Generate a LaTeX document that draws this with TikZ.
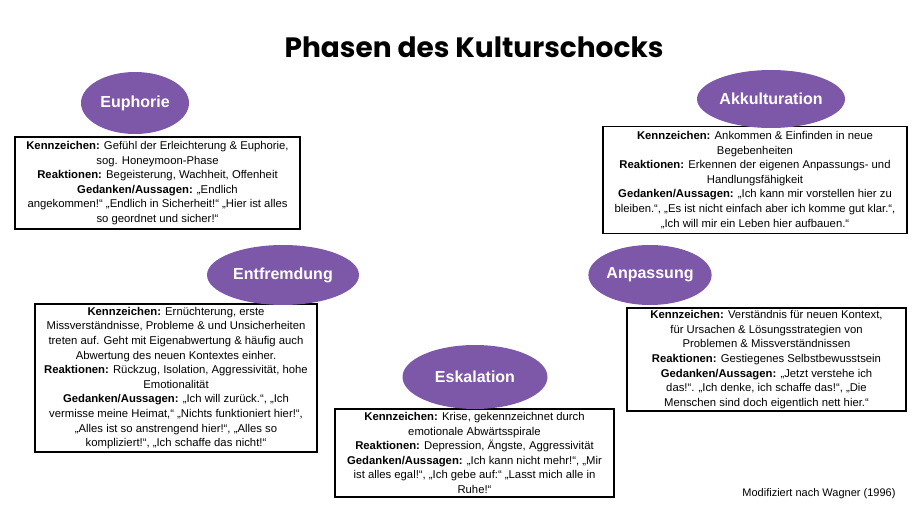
\documentclass[tikz,border=0pt]{standalone}
\usepackage{fontspec}
\setmainfont{Liberation Sans}
\newfontfamily\titlefont{Poppins}
\usetikzlibrary{shapes.geometric}
\definecolor{phase}{HTML}{7E58A8}
\tikzset{
  infobox/.style={draw=black,line width=1.6pt,fill=white,align=center,font=\fontsize{11.3}{14.6}\selectfont,inner sep=2pt},
  phaseell/.style={ellipse,fill=phase,text=white,font=\fontsize{16}{18}\selectfont\bfseries,inner sep=0pt},
}
\begin{document}
\begin{tikzpicture}[x=1pt,y=-1pt]
\useasboundingbox (0,0) rectangle (920,518);
\node (title) at (474,47) {\titlefont\fontsize{28}{30}\selectfont\bfseries Phasen des Kulturschocks};

\node[infobox,minimum width=285pt,minimum height=92pt] (b1) at (157.5,183) {\textbf{Kennzeichen:} Gefühl der Erleichterung \& Euphorie,\\sog. Honeymoon-Phase\\\textbf{Reaktionen:} Begeisterung, Wachheit, Offenheit\\\textbf{Gedanken/Aussagen:} „Endlich\\angekommen!“ „Endlich in Sicherheit!“ „Hier ist alles\\so geordnet und sicher!“};
\node[phaseell,minimum width=108pt,minimum height=62pt] (e1) at (135,103) {Euphorie};

\node[infobox,minimum width=304pt,minimum height=107pt] (b2) at (755,180) {\textbf{Kennzeichen:} Ankommen \& Einfinden in neue\\Begebenheiten\\\textbf{Reaktionen:} Erkennen der eigenen Anpassungs- und\\Handlungsfähigkeit\\\textbf{Gedanken/Aussagen:} „Ich kann mir vorstellen hier zu\\bleiben.“, „Es ist nicht einfach aber ich komme gut klar.“,\\„Ich will mir ein Leben hier aufbauen.“};
\node[phaseell,minimum width=148pt,minimum height=58pt] (e2) at (771,99) {Akkulturation};

\node[infobox,minimum width=282pt,minimum height=148pt] (b3) at (176,378) {\textbf{Kennzeichen:} Ernüchterung, erste\\Missverständnisse, Probleme \& und Unsicherheiten\\treten auf. Geht mit Eigenabwertung \& häufig auch\\Abwertung des neuen Kontextes einher.\\\textbf{Reaktionen:} Rückzug, Isolation, Aggressivität, hohe\\Emotionalität\\\textbf{Gedanken/Aussagen:} „Ich will zurück.“, „Ich\\vermisse meine Heimat,“ „Nichts funktioniert hier!“,\\„Alles ist so anstrengend hier!“, „Alles so\\kompliziert!“, „Ich schaffe das nicht!“};
\node[phaseell,minimum width=152pt,minimum height=60pt] (e3) at (283,275) {Entfremdung};

\node[infobox,minimum width=279pt,minimum height=103pt] (b4) at (766.5,359.5) {\textbf{Kennzeichen:} Verständnis für neuen Kontext,\\für Ursachen \& Lösungsstrategien von\\Problemen \& Missverständnissen\\\textbf{Reaktionen:} Gestiegenes Selbstbewusstsein\\\textbf{Gedanken/Aussagen:} „Jetzt verstehe ich\\das!“. „Ich denke, ich schaffe das!“, „Die\\Menschen sind doch eigentlich nett hier.“};
\node[phaseell,minimum width=122pt,minimum height=60pt] (e4) at (650,275) {Anpassung};

\node[infobox,minimum width=279pt,minimum height=88pt] (b5) at (474.5,453) {\textbf{Kennzeichen:} Krise, gekennzeichnet durch\\emotionale Abwärtsspirale\\\textbf{Reaktionen:} Depression, Ängste, Aggressivität\\\textbf{Gedanken/Aussagen:} „Ich kann nicht mehr!“, „Mir\\ist alles egal!“, „Ich gebe auf:“ „Lasst mich alle in\\Ruhe!“};
\node[phaseell,minimum width=145pt,minimum height=64pt] (e5) at (475,377) {Eskalation};

\node[anchor=east,font=\fontsize{11}{12}\selectfont] (src) at (899,494) {Modifiziert nach Wagner (1996)};
\end{tikzpicture}
\end{document}
